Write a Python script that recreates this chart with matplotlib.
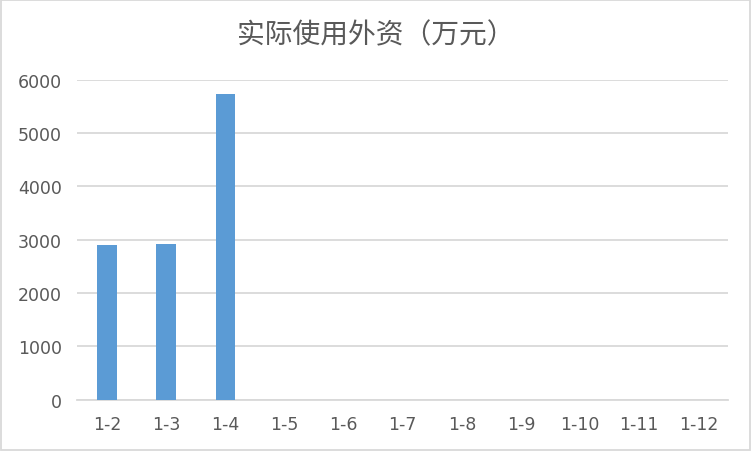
import matplotlib.pyplot as plt

plt.rcParams['font.family'] = ['DejaVu Sans', 'Noto Sans CJK SC']

months = ["1-2", "1-3", "1-4", "1-5", "1-6", "1-7", "1-8", "1-9", "1-10", "1-11", "1-12"]
values = [2900, 2920, 5730, 0, 0, 0, 0, 0, 0, 0, 0]
yticks = [0, 1000, 2000, 3000, 4000, 5000, 6000]

fig = plt.figure(figsize=(7.52, 4.52), dpi=100)
ax = fig.add_axes([0.103, 0.1135, 0.865, 0.708])

x = list(range(len(months)))
ax.bar(x, values, width=0.33, color="#5B9BD5", zorder=3)

ax.set_xlim(-0.5, len(months) - 0.5)
ax.set_ylim(0, 6000)
ax.set_yticks(yticks)
ax.set_xticks(x)
ax.set_xticklabels(months)
ax.grid(axis="y", color="#D9D9D9", linewidth=1.3, zorder=0)

for s in ["top", "right", "left"]:
    ax.spines[s].set_visible(False)
ax.spines["bottom"].set_color("#D9D9D9")
ax.spines["bottom"].set_linewidth(1.3)
ax.tick_params(axis="both", length=0, labelsize=12.5, labelcolor="#595959")
ax.tick_params(axis="x", pad=11)
ax.tick_params(axis="y", pad=11)

fig.text(0.5, 0.922, "实际使用外资（万元）", ha="center", va="center",
         fontsize=20, color="#595959", family=['Noto Sans CJK SC', 'DejaVu Sans'])

fig.patches.append(plt.Rectangle((0.001, 0.002), 0.996, 0.996, transform=fig.transFigure,
                                 fill=False, edgecolor="#D9D9D9", linewidth=1.3))

fig.savefig("out.png", dpi=100)
